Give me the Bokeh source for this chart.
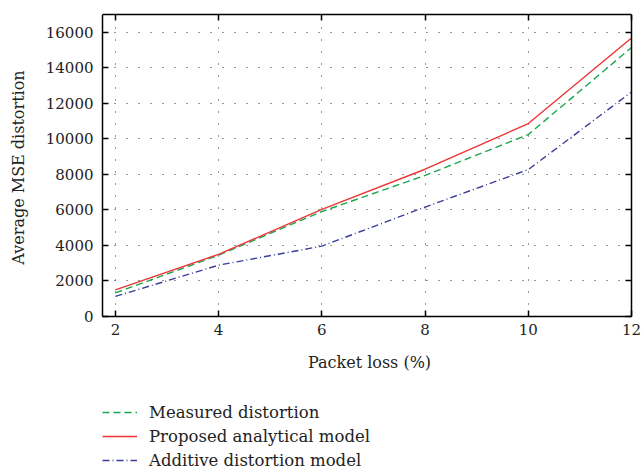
import math
from bokeh.plotting import figure
from bokeh.models import Legend, LegendItem, LinearAxis, FixedTicker, Range1d, Grid, Label
from bokeh.embed import file_html
from bokeh.resources import INLINE

packet_loss = [2, 4, 6, 8, 10, 12]
measured = [1330, 3450, 5910, 7940, 10240, 15140]
proposed = [1500, 3500, 6030, 8290, 10860, 15680]
additive = [1130, 2890, 3960, 6160, 8270, 12640]

x_ticks = [2, 4, 6, 8, 10, 12]
y_ticks = [0, 2000, 4000, 6000, 8000, 10000, 12000, 14000, 16000]
x_title = "Packet loss (%)"
y_title = "Average MSE distortion"

FONT = "DejaVu Serif"
X_LEFT, X_RIGHT = 1.75, 12
Y_TOP = 17000
# the frame fills the whole page below the top border so that text outside the box is not clipped
W, H = 644, 474
BOX_L, BOX_R, BOX_T, BOX_B = 102, 631, 14, 316
px_per_x = (BOX_R - BOX_L) / (X_RIGHT - X_LEFT)
px_per_y = (BOX_B - BOX_T) / Y_TOP
X_MIN = X_LEFT - BOX_L / px_per_x
X_MAX = X_RIGHT + (W - BOX_R) / px_per_x
Y_BOTTOM = -(H - BOX_B) / px_per_y

p = figure(width=W, height=H, output_backend="svg", toolbar_location=None,
           x_range=Range1d(X_MIN, X_MAX), y_range=Range1d(Y_BOTTOM, Y_TOP))
p.min_border_left = 0
p.min_border_right = 0
p.min_border_top = BOX_T
p.min_border_bottom = 0
p.background_fill_color = "white"
p.border_fill_color = "white"
p.outline_line_color = None

g = p.line(packet_loss, measured, line_color="#1aa64f", line_width=1.4, line_dash="7 4")
r = p.line(packet_loss, proposed, line_color="#ee3535", line_width=1.4)
b = p.line(packet_loss, additive, line_color="#3a3d9a", line_width=1.4, line_dash="7 3 1 3")

for ax in (p.xaxis[0], p.yaxis[0]):
    ax.major_tick_in = 6
    ax.major_tick_out = 0
    ax.minor_tick_in = 0
    ax.minor_tick_out = 0
    ax.axis_line_color = "black"
    ax.axis_line_width = 1.5
    ax.major_tick_line_color = "black"
    ax.major_tick_line_width = 1.5
    ax.major_label_text_font = FONT
    ax.major_label_text_font_size = "15px"
    ax.major_label_text_color = "#222222"

p.xaxis[0].ticker = FixedTicker(ticks=x_ticks)
p.yaxis[0].ticker = FixedTicker(ticks=y_ticks)
p.xaxis[0].fixed_location = 0
p.yaxis[0].fixed_location = X_LEFT
p.xaxis[0].bounds = (X_LEFT, X_RIGHT)
p.yaxis[0].bounds = (0, Y_TOP)
p.xaxis[0].major_label_standoff = 7
p.yaxis[0].major_label_standoff = 9

top = LinearAxis(ticker=FixedTicker(ticks=x_ticks), bounds=(X_LEFT, X_RIGHT))
right = LinearAxis(ticker=FixedTicker(ticks=y_ticks), bounds=(0, Y_TOP), fixed_location=X_RIGHT)
for ax in (top, right):
    ax.major_tick_in = 6
    ax.major_tick_out = 0
    ax.minor_tick_in = 0
    ax.minor_tick_out = 0
    ax.axis_line_color = "black"
    ax.axis_line_width = 1.5
    ax.major_tick_line_color = "black"
    ax.major_tick_line_width = 1.5
    ax.major_label_text_font_size = "1px"
    ax.major_label_text_color = None
    ax.major_label_standoff = 0
p.add_layout(top, "above")
p.add_layout(right, "right")

p.xgrid.ticker = FixedTicker(ticks=x_ticks)
p.ygrid.ticker = FixedTicker(ticks=y_ticks)
for gr in (p.xgrid[0], p.ygrid[0]):
    gr.grid_line_color = "#333333"
    gr.grid_line_dash = "1 11"
    gr.grid_line_width = 1
if "cross_bounds" in Grid.properties():
    p.xgrid[0].cross_bounds = (0, Y_TOP)
    p.ygrid[0].cross_bounds = (X_LEFT, X_RIGHT)

# axis titles (screen units, measured from the frame's bottom-left corner)
p.add_layout(Label(text=x_title, x=369, y=H - 362, x_units="screen", y_units="screen",
                   text_align="center", text_baseline="middle", text_font=FONT,
                   text_font_size="16px", text_color="#222222"))
p.add_layout(Label(text=y_title, x=18, y=H - 167, x_units="screen", y_units="screen",
                   angle=math.pi / 2, text_align="center", text_baseline="middle",
                   text_font=FONT, text_font_size="16px", text_color="#222222"))

legend = Legend(items=[
    LegendItem(label="Measured distortion", renderers=[g]),
    LegendItem(label="Proposed analytical model", renderers=[r]),
    LegendItem(label="Additive distortion model", renderers=[b]),
], location=(BOX_L, 4))
legend.glyph_width = 35
legend.glyph_height = 20
legend.label_height = 20
legend.spacing = 4
legend.padding = 0
legend.margin = 0
legend.label_standoff = 12
legend.border_line_color = None
legend.background_fill_alpha = 0
legend.label_text_font = FONT
legend.label_text_font_size = "16.5px"
legend.label_text_color = "#222222"
p.add_layout(legend, "center")

open("out.html", "w").write(file_html(p, INLINE))
